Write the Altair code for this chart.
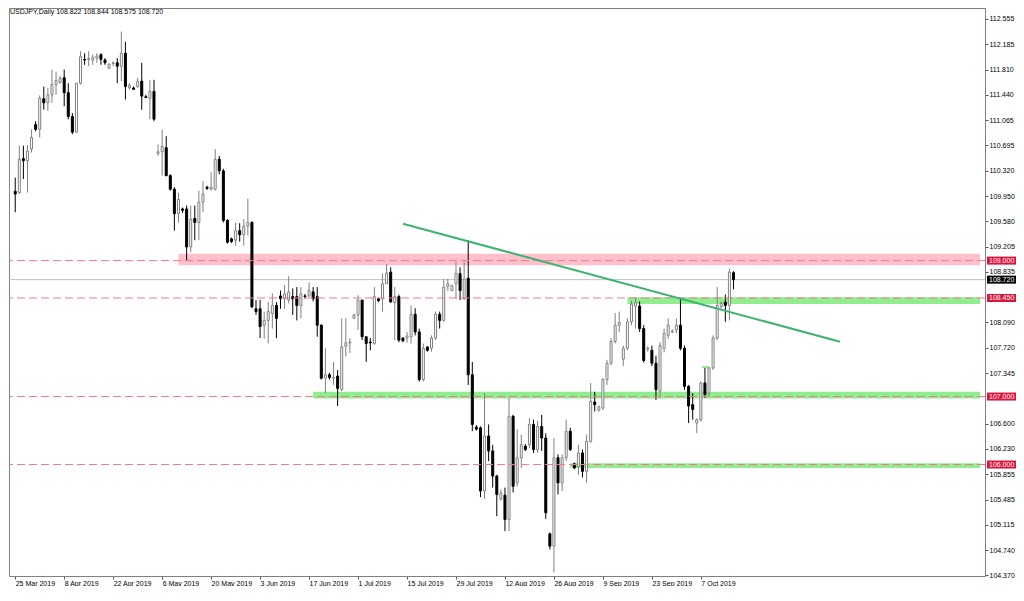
import json
import altair as alt
import pandas as pd

# ---- daily bars (index 0 = Mon 25 Mar 2019, six sessions per week incl. Sunday) ----
bar_open = [110.02, 110.00, 110.50, 110.47, 110.64, 111.00, 110.93, 111.38, 111.32, 111.44,
            111.59, 111.62, 111.69, 111.47, 111.12, 110.89, 111.61, 111.96, 111.96, 111.95,
            111.98, 112.03, 111.95, 111.83, 111.90, 111.91, 111.86, 112.05, 111.54, 111.54,
            111.56, 111.64, 111.41, 111.39, 111.49, 110.58, 110.60, 110.66, 110.25, 110.05,
            109.69, 109.76, 109.76, 109.20, 109.62, 109.56, 109.86, 110.08, 110.05, 110.05,
            110.49, 110.32, 109.59, 109.32, 109.30, 109.44, 109.38, 109.51, 109.56, 108.29,
            108.29, 108.05, 108.12, 108.22, 108.34, 108.48, 108.44, 108.42, 108.47, 108.47,
            108.34, 108.48, 108.48, 108.54, 108.47, 108.05, 107.27, 107.32, 107.27, 107.30,
            107.10, 107.74, 107.79, 108.15, 108.20, 108.42, 107.88, 107.80, 107.78, 108.44,
            108.44, 108.66, 108.83, 108.38, 108.47, 107.86, 107.86, 107.88, 108.21, 107.95,
            107.25, 107.73, 107.71, 107.86, 108.21, 108.12, 108.62, 108.56, 108.66, 108.81,
            108.44, 108.74, 107.32, 106.55, 106.54, 105.61, 106.42, 106.20, 105.83, 105.49,
            105.55, 105.19, 106.71, 105.73, 106.10, 106.27, 106.29, 106.59, 106.22, 106.56,
            106.39, 104.98, 104.80, 106.10, 105.73, 106.10, 106.49, 106.01, 105.97, 106.17,
            105.90, 106.34, 106.92, 106.80, 106.83, 107.25, 107.49, 107.81, 108.05, 107.55,
            107.71, 108.10, 108.33, 108.33, 108.00, 107.70, 107.68, 107.49, 107.08, 107.71,
            107.90, 107.95, 107.98, 108.05, 107.71, 107.15, 106.88, 106.61, 106.66, 107.20,
            107.05, 107.42, 107.86, 108.32, 108.39, 108.34, 108.822]
bar_high = [110.22, 110.69, 110.69, 110.70, 110.93, 111.05, 111.43, 111.56, 111.54, 111.81,
            111.78, 111.72, 111.81, 111.61, 111.17, 111.61, 112.08, 112.05, 112.08, 112.03,
            112.05, 112.05, 111.98, 111.90, 111.93, 111.98, 112.37, 112.22, 111.61, 111.56,
            111.69, 111.91, 111.44, 111.66, 111.66, 110.71, 110.93, 110.83, 110.27, 110.08,
            110.00, 109.78, 109.81, 109.81, 109.81, 110.03, 110.17, 110.10, 110.30, 110.64,
            110.54, 110.35, 109.61, 109.34, 109.56, 109.55, 109.61, 109.91, 109.58, 108.42,
            108.42, 108.25, 108.39, 108.52, 108.39, 108.56, 108.64, 108.77, 108.59, 108.61,
            108.61, 108.51, 108.68, 108.61, 108.61, 108.06, 107.71, 107.35, 107.51, 107.39,
            108.15, 108.15, 107.86, 108.22, 108.49, 108.42, 107.88, 107.86, 108.61, 108.45,
            108.81, 108.95, 108.90, 108.61, 108.50, 107.87, 107.95, 108.34, 108.30, 108.00,
            107.78, 107.74, 107.90, 108.25, 108.25, 108.73, 108.73, 108.65, 108.98, 108.90,
            108.98, 109.30, 107.51, 106.58, 106.56, 107.05, 106.59, 106.29, 105.85, 105.63,
            105.66, 106.98, 106.73, 106.52, 106.44, 106.30, 106.68, 106.66, 106.64, 106.73,
            106.46, 105.00, 106.39, 106.15, 106.15, 106.66, 106.54, 106.03, 106.29, 106.22,
            106.44, 107.20, 107.07, 106.87, 107.27, 107.54, 107.86, 108.23, 108.25, 107.75,
            108.15, 108.41, 108.46, 108.40, 108.05, 107.74, 107.75, 107.60, 107.80, 108.00,
            108.15, 107.99, 108.15, 108.44, 107.75, 107.17, 107.05, 106.68, 107.22, 107.42,
            107.44, 107.90, 108.61, 108.40, 108.50, 108.88, 108.844]
bar_low = [109.71, 109.98, 110.20, 110.00, 110.59, 110.90, 110.81, 111.22, 111.20, 111.32,
           111.44, 111.60, 111.27, 111.08, 110.86, 110.88, 111.59, 111.88, 111.86, 111.88,
           111.91, 111.88, 111.88, 111.82, 111.86, 111.61, 111.64, 111.37, 111.52, 111.51,
           111.54, 111.22, 111.39, 111.08, 111.05, 110.54, 110.25, 110.24, 110.03, 109.44,
           109.56, 109.70, 109.00, 109.12, 109.30, 109.30, 109.71, 110.04, 110.03, 110.03,
           110.27, 109.56, 109.25, 109.26, 109.22, 109.28, 109.22, 109.37, 108.30, 108.20,
           107.86, 107.85, 107.78, 108.00, 107.86, 108.29, 108.29, 108.37, 108.20, 108.12,
           108.15, 108.44, 108.47, 108.40, 107.88, 107.25, 107.05, 107.25, 107.17, 106.86,
           107.08, 107.59, 107.64, 108.14, 107.98, 107.83, 107.51, 107.68, 107.76, 108.39,
           108.25, 108.66, 108.39, 107.83, 107.80, 107.80, 107.79, 107.78, 107.90, 107.22,
           107.22, 107.66, 107.66, 107.83, 108.00, 108.10, 108.55, 108.55, 108.44, 108.42,
           108.42, 107.17, 106.49, 106.50, 105.52, 105.49, 106.05, 105.66, 105.24, 105.47,
           105.02, 105.02, 105.59, 105.68, 105.95, 106.20, 106.24, 106.17, 106.17, 106.20,
           105.20, 104.75, 104.41, 105.56, 105.61, 106.05, 106.20, 105.93, 105.85, 105.81,
           105.73, 106.32, 106.78, 106.78, 106.80, 107.17, 107.46, 107.78, 107.95, 107.45,
           107.68, 108.05, 108.00, 107.95, 107.50, 107.66, 107.45, 106.95, 106.98, 107.65,
           107.85, 107.93, 107.93, 107.68, 107.10, 106.61, 106.66, 106.46, 106.63, 106.98,
           107.00, 107.39, 107.83, 108.30, 108.10, 108.12, 108.575]
bar_close = [109.98, 110.49, 110.47, 110.61, 110.81, 110.93, 111.39, 111.32, 111.44, 111.59,
             111.65, 111.68, 111.47, 111.12, 110.89, 111.61, 112.00, 111.95, 111.97, 111.99,
             112.01, 111.96, 111.91, 111.89, 111.91, 111.86, 112.05, 111.56, 111.58, 111.52,
             111.64, 111.42, 111.40, 111.49, 111.08, 110.60, 110.68, 110.25, 110.05, 109.69,
             109.90, 109.74, 109.20, 109.61, 109.56, 109.86, 109.98, 110.06, 110.08, 110.49,
             110.32, 109.59, 109.27, 109.28, 109.44, 109.38, 109.51, 109.56, 108.32, 108.25,
             108.03, 108.12, 108.25, 108.34, 108.15, 108.44, 108.51, 108.54, 108.44, 108.34,
             108.51, 108.47, 108.56, 108.44, 108.05, 107.27, 107.32, 107.28, 107.28, 107.12,
             107.73, 107.79, 107.80, 108.20, 108.42, 107.88, 107.78, 107.79, 108.47, 108.41,
             108.66, 108.82, 108.39, 108.47, 107.83, 107.82, 107.89, 108.21, 107.95, 107.25,
             107.71, 107.68, 107.86, 108.21, 108.12, 108.61, 108.66, 108.63, 108.81, 108.56,
             108.73, 107.32, 106.59, 106.52, 105.61, 106.42, 106.20, 105.83, 105.56, 105.58,
             105.19, 106.71, 105.68, 106.10, 106.29, 106.22, 106.59, 106.22, 106.56, 106.39,
             105.29, 104.80, 106.10, 105.73, 106.10, 106.49, 106.22, 105.95, 106.17, 105.90,
             106.34, 106.93, 106.88, 106.85, 107.25, 107.49, 107.81, 108.05, 108.09, 107.71,
             108.10, 108.36, 108.38, 108.00, 107.53, 107.71, 107.49, 107.10, 107.75, 107.93,
             108.05, 107.96, 108.05, 107.71, 107.15, 106.86, 106.81, 106.66, 107.20, 107.03,
             107.42, 107.86, 108.34, 108.37, 108.34, 108.83, 108.720]

# ---- axis ticks ----
tick_bars = [0, 12, 24, 36, 48, 60, 72, 84, 96, 108, 120, 132, 144, 156, 168]
tick_labels = ["25 Mar 2019", "8 Apr 2019", "22 Apr 2019", "6 May 2019", "20 May 2019",
               "3 Jun 2019", "17 Jun 2019", "1 Jul 2019", "15 Jul 2019", "29 Jul 2019",
               "12 Aug 2019", "26 Aug 2019", "9 Sep 2019", "23 Sep 2019", "7 Oct 2019"]
price_ticks = [112.555, 112.185, 111.810, 111.440, 111.065, 110.695, 110.320, 109.950,
               109.580, 109.205, 108.835, 108.090, 107.720, 107.345,
               106.600, 106.230, 105.855, 105.485, 105.115, 104.740, 104.370]

# ---- drawn objects ----
level_prices = [109.000, 108.450, 107.000, 106.000]
last_price = 108.720
zone_start = [40.0, 150.0, 73.0, 136.0]
zone_top = [109.10, 108.46, 107.07, 106.02]
zone_bottom = [108.93, 108.36, 106.97, 105.95]
zone_fill = ["#ffc0cb", "#90ee90", "#90ee90", "#90ee90"]
mini_start, mini_end, mini_top, mini_bottom = [168.3], [169.9], [107.45], [107.42]
trend_bars = [95.0, 202.1]
trend_prices = [109.543, 107.807]
header_text = "USDJPY,Daily  108.822 108.844 108.575 108.720"

# ---- layout ----
W, H = 976, 568
X_DOM = [-0.3, 236.4]
Y_DOM = [104.36, 112.716]
FONT = "Liberation Sans"
FS = 7
BOX_HALF = 4.0 * (Y_DOM[1] - Y_DOM[0]) / H

xs = alt.Scale(domain=X_DOM, nice=False, zero=False)
ys = alt.Scale(domain=Y_DOM, nice=False, zero=False)
label_expr = f"{json.dumps(tick_labels)}[indexof({json.dumps(tick_bars)}, datum.value)]"
x_axis = alt.Axis(values=tick_bars, labelExpr=label_expr, title=None, grid=False,
                  tickSize=3, tickColor="#555555", labelAlign="left", labelBaseline="top",
                  labelPadding=0, labelFont=FONT, labelFontSize=FS, labelColor="#000000",
                  domainColor="#808080", labelOverlap=False, labelFlush=False)
y_axis = alt.Axis(orient="right", values=price_ticks, format=".3f", title=None, grid=False,
                  tickSize=3, tickColor="#555555", labelPadding=1, labelFont=FONT,
                  labelFontSize=FS, labelColor="#000000", domainColor="#808080",
                  labelOverlap=False, labelFlush=False)


def X(f):
    return alt.X(f, type="quantitative", scale=xs, axis=x_axis)


def Y(f):
    return alt.Y(f, type="quantitative", scale=ys, axis=y_axis)


n = len(bar_open)
candles = pd.DataFrame({"bar": list(range(n)), "open": bar_open, "high": bar_high,
                        "low": bar_low, "close": bar_close})
candles["dir"] = ["up" if c >= o else "down" for o, c in zip(bar_open, bar_close)]

zones = pd.DataFrame({"start": zone_start + mini_start,
                      "end": [X_DOM[1]] * len(zone_start) + mini_end,
                      "top": zone_top + mini_top, "bottom": zone_bottom + mini_bottom,
                      "fill": zone_fill + ["#90ee90"]})
levels = pd.DataFrame({"price": level_prices})
lastdf = pd.DataFrame({"price": [last_price]})
trend = pd.DataFrame({"bar": trend_bars, "price": trend_prices})
boxes = pd.DataFrame({"price": level_prices + [last_price],
                      "label": [f"{p:.3f}" for p in level_prices + [last_price]],
                      "fill": ["#dc143c"] * len(level_prices) + ["#000000"]})

zone_layer = alt.Chart(zones).mark_rect(clip=True).encode(
    x=X("start"), x2="end", y=Y("top"), y2="bottom", color=alt.Color("fill:N", scale=None))
last_layer = alt.Chart(lastdf).mark_rule(color="#c0c0c0", strokeWidth=1).encode(y=Y("price"))
wick_layer = alt.Chart(candles).mark_rule(strokeWidth=1, clip=True).encode(
    x=X("bar"), y=Y("low"), y2="high",
    color=alt.Color("dir:N", scale=alt.Scale(domain=["up", "down"], range=["#808080", "#000000"]),
                    legend=None))
body_layer = alt.Chart(candles).mark_bar(width=2, strokeWidth=1, clip=True).encode(
    x=X("bar"), y=Y("open"), y2="close",
    fill=alt.Fill("dir:N", scale=alt.Scale(domain=["up", "down"], range=["#ffffff", "#000000"]),
                  legend=None),
    stroke=alt.Stroke("dir:N", scale=alt.Scale(domain=["up", "down"], range=["#808080", "#000000"]),
                      legend=None))
level_layer = alt.Chart(levels).mark_rule(color="#f07a8c", strokeWidth=1, strokeDash=[8, 4]).encode(
    y=Y("price"))
trend_layer = alt.Chart(trend).mark_line(color="#3cb371", strokeWidth=2, clip=True).encode(
    x=X("bar"), y=Y("price"))
header_layer = alt.Chart(pd.DataFrame({"t": [header_text]})).mark_text(
    align="left", baseline="middle", font=FONT, fontSize=FS, color="#000000").encode(
    x=alt.value(1), y=alt.value(4), text="t:N")
box_layer = alt.Chart(boxes).transform_calculate(
    top=f"datum.price + {BOX_HALF}", bot=f"datum.price - {BOX_HALF}").mark_rect().encode(
    x=alt.value(W + 2), x2=alt.value(W + 31), y=Y("top:Q"), y2="bot:Q",
    color=alt.Color("fill:N", scale=None))
box_text = alt.Chart(boxes).mark_text(align="left", baseline="middle", font=FONT, fontSize=FS,
                                      color="#ffffff").encode(
    x=alt.value(W + 4), y=Y("price"), text="label:N")

chart = alt.layer(zone_layer, last_layer, wick_layer, body_layer, level_layer, trend_layer,
                  header_layer, box_layer, box_text).properties(
    width=W, height=H, padding={"left": 0, "top": 0, "right": 0, "bottom": 0}
).configure_view(stroke="#808080", strokeWidth=1)

chart.save("out.html", embed_options={"renderer": "svg", "actions": False})
